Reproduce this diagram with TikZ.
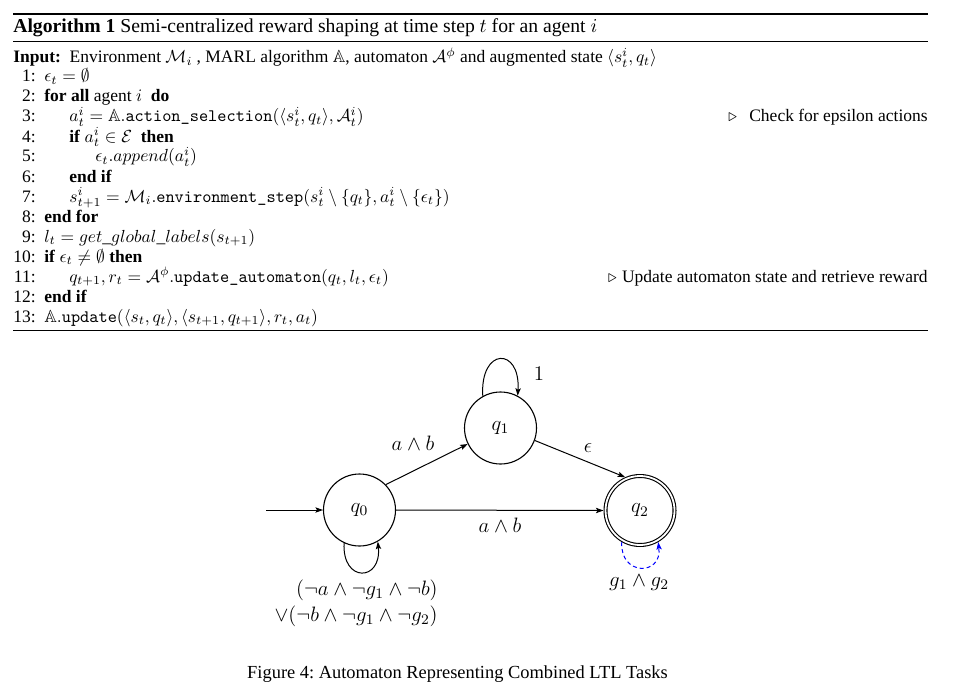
\RequirePackage{fix-cm}
\documentclass[tikz,border=0pt]{standalone}
\usepackage{amsmath,amssymb}
\usepackage[no-math]{fontspec}
\setmainfont{Liberation Serif}
\usetikzlibrary{arrows.meta}
\newcommand{\algfont}{\fontsize{10.5}{12}\selectfont}
\newcommand{\capfont}{\fontsize{11.8}{13}\selectfont}
\newcommand{\figfont}{\fontsize{11.05}{13}\selectfont}
\newcommand{\diafont}{\fontsize{12.5}{14}\selectfont}
\begin{document}
\begin{tikzpicture}[x=0.6pt,y=-0.6pt,
  alg/.style={font=\algfont, inner sep=0, anchor=base west},
  num/.style={font=\algfont, inner sep=0, anchor=base east},
  cmt/.style={font=\algfont, inner sep=0, anchor=base east},
  state/.style={circle, draw, line width=0.66pt, minimum size=43.2pt, inner sep=0, font=\diafont},
  accstate/.style={state, double, double distance=1.08pt, minimum size=41.4pt, outer sep=1.2pt},
  lbl/.style={font=\diafont, inner sep=0, anchor=base},
  edge/.style={-{Stealth[length=4.5pt,width=3.2pt,inset=0.9pt]}, line width=0.6pt},
  toprl/.style={line width=0.8pt},
  midrl/.style={line width=0.5pt}
]
\useasboundingbox (0,0) rectangle (973,697);
% rules
\draw[toprl] (13,14) -- (928,14);
\draw[midrl] (13,41) -- (928,41);
\draw[midrl] (13,330) -- (928,330);
% caption
\node[alg, font=\capfont] (cap) at (13,33) {\textbf{Algorithm 1} Semi-centralized reward shaping at time step $t$ for an agent $i$};
\node[alg] (inp) at (13,63) {\textbf{Input:}\ \ Environment $\mathcal{M}_i$ , MARL algorithm $\mathbb{A}$, automaton $\mathcal{A}^\phi$ and augmented state $\langle s_t^i,q_t\rangle$};
% line numbers
\foreach \k in {1,...,13}{
  \node[num] (n\k) at (36,{82+20*(\k-1)}) {\k:};
}
\node[alg] (l1) at (44,82) {$\epsilon_t=\emptyset$};
\node[alg] (l2) at (44,102) {\textbf{for all} agent $i$\ \ \textbf{do}};
\node[alg] (l3) at (69,122) {$a_t^i=\mathbb{A}.\texttt{action\_selection}(\langle s_t^i,q_t\rangle,\mathcal{A}_t^i)$};
\node[alg] (l4) at (69,142) {\textbf{if} $a_t^i\in\mathcal{E}$\ \ \textbf{then}};
\node[alg] (l5) at (95,162) {$\epsilon_t.append(a_t^i)$};
\node[alg] (l6) at (69,182) {\textbf{end if}};
\node[alg] (l7) at (69,202) {$s_{t+1}^i=\mathcal{M}_i.\texttt{environment\_step}(s_t^i\setminus\{q_t\},a_t^i\setminus\{\epsilon_t\})$};
\node[alg] (l8) at (44,222) {\textbf{end for}};
\node[alg] (l9) at (44,242) {$l_t=get\_global\_labels(s_{t+1})$};
\node[alg] (l10) at (44,262) {\textbf{if} $\epsilon_t\neq\emptyset$ \textbf{then}};
\node[alg] (l11) at (69,282) {$q_{t+1},r_t=\mathcal{A}^\phi.\texttt{update\_automaton}(q_t,l_t,\epsilon_t)$};
\node[alg] (l12) at (44,302) {\textbf{end if}};
\node[alg] (l13) at (44,322) {$\mathbb{A}.\texttt{update}(\langle s_t,q_t\rangle,\langle s_{t+1},q_{t+1}\rangle,r_t,a_t)$};
\node[cmt] (c3) at (928,122) {$\triangleright$\hspace{0.7em}Check for epsilon actions};
\node[cmt] (c11) at (928,282) {$\triangleright$\hspace{0.3em}Update automaton state and retrieve reward};
% automaton
\node[state] (q0) at (359.5,510) {$q_0$};
\node[state] (q1) at (500.5,428) {$q_1$};
\node[accstate] (q2) at (640,510.5) {$q_2$};
\coordinate (init) at (266,510);
\draw[edge] (init) -- (q0.west);
\draw[edge] (q0.44) -- (q1.206);
\draw[edge] (q1.-20) -- (q2.114);
\draw[edge] (q0.east) -- (q2.west);
\draw[edge] (q1.119) .. controls +(-3,-49) and +(3,-49) .. (q1.62);
\draw[edge] (q0.245) .. controls +(-2,40) and +(4,40) .. (q0.-60);
\draw[edge, blue, dash pattern=on 2.4pt off 1.8pt] (q2.240) .. controls +(-2,34) and +(4,34) .. (q2.-60);
\node[lbl] (e01) at (413,450) {$a\wedge b$};
\node[lbl] (e02) at (500,532) {$a\wedge b$};
\node[lbl] (e12) at (588,452) {$\epsilon$};
\node[lbl] (s1) at (539,380) {$1$};
\node[lbl, anchor=base east] (s0a) at (438,595) {$(\neg a\wedge\neg g_1\wedge\neg b)$};
\node[lbl, anchor=base east] (s0b) at (438,621) {$\vee(\neg b\wedge\neg g_1\wedge\neg g_2)$};
\node[lbl] (s2) at (639,586) {$g_1\wedge g_2$};
\node[alg, anchor=base, font=\figfont] (fig) at (457.5,678) {Figure 4:\ Automaton Representing Combined LTL Tasks};
\end{tikzpicture}
\end{document}
